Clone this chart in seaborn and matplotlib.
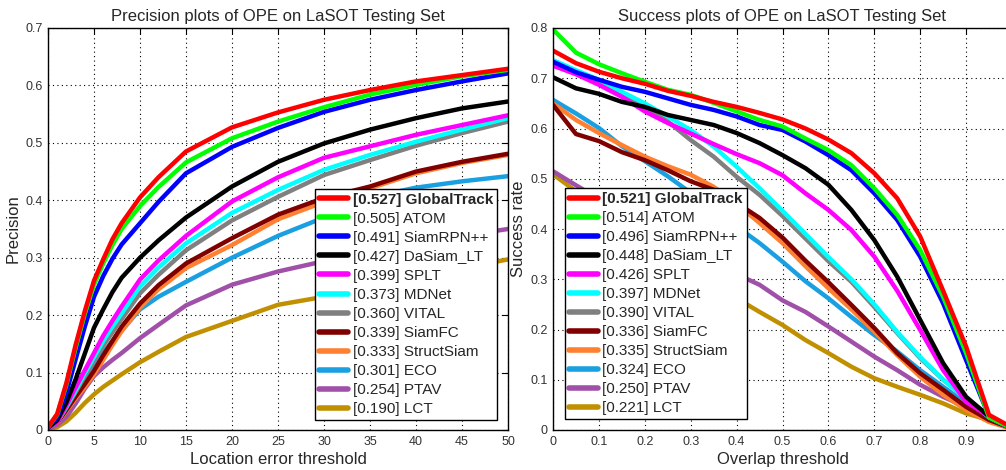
import matplotlib
matplotlib.use("Agg")
import matplotlib.pyplot as plt
import seaborn as sns
import pandas as pd

# ========================
# Data
# ========================
trackers = ["GlobalTrack", "ATOM", "SiamRPN++", "DaSiam_LT", "SPLT", "MDNet",
            "VITAL", "SiamFC", "StructSiam", "ECO", "PTAV", "LCT"]
colors = ["#ff0000", "#00ff00", "#0000ff", "#000000", "#ff00ff", "#00ffff",
          "#808080", "#800000", "#ff8030", "#1aa0e0", "#a050a8", "#c09000"]
prec_auc = [0.527, 0.505, 0.491, 0.427, 0.399, 0.373, 0.360, 0.339, 0.333, 0.301, 0.254, 0.190]
succ_auc = [0.521, 0.514, 0.496, 0.448, 0.426, 0.397, 0.390, 0.336, 0.335, 0.324, 0.250, 0.221]

# precision plot: location error threshold
prec_x = [0, 1, 2, 3, 4, 5, 6, 7, 8, 10, 12, 15, 20, 25, 30, 35, 40, 45, 50]
prec_globaltrack = [0.005, 0.028, 0.082, 0.148, 0.207, 0.26, 0.297, 0.332, 0.36, 0.405, 0.44, 0.485, 0.527, 0.553, 0.575, 0.592, 0.607, 0.618, 0.629]
prec_atom = [0.005, 0.027, 0.079, 0.143, 0.202, 0.253, 0.29, 0.322, 0.35, 0.39, 0.423, 0.466, 0.508, 0.537, 0.562, 0.584, 0.601, 0.616, 0.627]
prec_siamrpn = [0.004, 0.022, 0.065, 0.123, 0.18, 0.232, 0.268, 0.298, 0.323, 0.36, 0.397, 0.447, 0.493, 0.526, 0.554, 0.575, 0.592, 0.607, 0.621]
prec_dasiam = [0.004, 0.017, 0.048, 0.088, 0.133, 0.178, 0.21, 0.24, 0.265, 0.30, 0.33, 0.37, 0.424, 0.467, 0.499, 0.523, 0.543, 0.56, 0.572]
prec_splt = [0.003, 0.014, 0.043, 0.074, 0.104, 0.134, 0.164, 0.19, 0.215, 0.262, 0.295, 0.338, 0.398, 0.44, 0.474, 0.494, 0.514, 0.531, 0.548]
prec_mdnet = [0.003, 0.014, 0.041, 0.069, 0.099, 0.127, 0.155, 0.18, 0.203, 0.25, 0.283, 0.325, 0.378, 0.418, 0.453, 0.479, 0.502, 0.523, 0.543]
prec_vital = [0.003, 0.014, 0.039, 0.066, 0.094, 0.12, 0.147, 0.17, 0.193, 0.238, 0.27, 0.313, 0.365, 0.406, 0.444, 0.47, 0.495, 0.517, 0.537]
prec_siamfc = [0.003, 0.013, 0.035, 0.058, 0.08, 0.103, 0.13, 0.155, 0.18, 0.22, 0.252, 0.29, 0.334, 0.375, 0.404, 0.424, 0.45, 0.467, 0.481]
prec_structsiam = [0.003, 0.012, 0.033, 0.055, 0.075, 0.097, 0.122, 0.148, 0.172, 0.213, 0.245, 0.282, 0.322, 0.367, 0.397, 0.421, 0.447, 0.465, 0.479]
prec_eco = [0.003, 0.015, 0.043, 0.07, 0.093, 0.115, 0.135, 0.155, 0.173, 0.21, 0.232, 0.258, 0.30, 0.338, 0.37, 0.405, 0.422, 0.433, 0.442]
prec_ptav = [0.002, 0.009, 0.023, 0.046, 0.072, 0.094, 0.109, 0.122, 0.134, 0.16, 0.183, 0.217, 0.253, 0.276, 0.294, 0.31, 0.325, 0.338, 0.35]
prec_lct = [0.001, 0.005, 0.015, 0.03, 0.047, 0.062, 0.075, 0.086, 0.097, 0.118, 0.136, 0.162, 0.19, 0.218, 0.232, 0.248, 0.265, 0.282, 0.297]

# success plot: overlap threshold
succ_x = [0.0, 0.05, 0.1, 0.15, 0.2, 0.25, 0.3, 0.35, 0.4, 0.45, 0.5,
          0.55, 0.6, 0.65, 0.7, 0.75, 0.8, 0.85, 0.9, 0.95, 1.0]
succ_globaltrack = [0.755, 0.730, 0.713, 0.700, 0.689, 0.675, 0.665, 0.653, 0.643, 0.631, 0.618, 0.600, 0.578, 0.551, 0.511, 0.461, 0.385, 0.277, 0.166, 0.030, 0.005]
succ_atom = [0.797, 0.751, 0.728, 0.710, 0.693, 0.677, 0.667, 0.651, 0.634, 0.617, 0.604, 0.580, 0.557, 0.527, 0.481, 0.428, 0.358, 0.265, 0.153, 0.025, 0.004]
succ_siamrpn = [0.733, 0.712, 0.697, 0.683, 0.673, 0.660, 0.647, 0.637, 0.624, 0.607, 0.597, 0.574, 0.547, 0.517, 0.471, 0.418, 0.345, 0.252, 0.139, 0.027, 0.004]
succ_dasiam = [0.702, 0.680, 0.669, 0.653, 0.643, 0.627, 0.617, 0.607, 0.591, 0.571, 0.547, 0.521, 0.488, 0.438, 0.378, 0.305, 0.219, 0.133, 0.066, 0.027, 0.004]
succ_splt = [0.725, 0.708, 0.687, 0.663, 0.634, 0.611, 0.590, 0.569, 0.549, 0.531, 0.507, 0.471, 0.438, 0.398, 0.345, 0.277, 0.199, 0.119, 0.056, 0.027, 0.003]
succ_mdnet = [0.736, 0.716, 0.697, 0.673, 0.650, 0.624, 0.597, 0.564, 0.524, 0.481, 0.436, 0.390, 0.344, 0.300, 0.250, 0.195, 0.145, 0.100, 0.062, 0.025, 0.003]
succ_vital = [0.730, 0.711, 0.693, 0.667, 0.643, 0.614, 0.577, 0.544, 0.504, 0.468, 0.426, 0.381, 0.336, 0.295, 0.245, 0.193, 0.143, 0.100, 0.064, 0.027, 0.003]
succ_siamfc = [0.647, 0.589, 0.575, 0.553, 0.537, 0.517, 0.495, 0.478, 0.452, 0.422, 0.383, 0.337, 0.294, 0.249, 0.203, 0.153, 0.113, 0.080, 0.046, 0.020, 0.003]
succ_structsiam = [0.650, 0.617, 0.591, 0.567, 0.544, 0.525, 0.508, 0.484, 0.450, 0.412, 0.372, 0.326, 0.282, 0.240, 0.196, 0.149, 0.106, 0.070, 0.040, 0.016, 0.002]
succ_eco = [0.657, 0.630, 0.601, 0.565, 0.535, 0.505, 0.472, 0.440, 0.405, 0.372, 0.335, 0.296, 0.262, 0.225, 0.189, 0.156, 0.119, 0.086, 0.053, 0.020, 0.003]
succ_ptav = [0.515, 0.487, 0.460, 0.435, 0.410, 0.385, 0.360, 0.335, 0.310, 0.289, 0.258, 0.235, 0.206, 0.176, 0.146, 0.119, 0.090, 0.066, 0.046, 0.023, 0.003]
succ_lct = [0.509, 0.475, 0.440, 0.410, 0.380, 0.350, 0.320, 0.290, 0.262, 0.235, 0.209, 0.179, 0.153, 0.126, 0.103, 0.086, 0.070, 0.053, 0.033, 0.020, 0.003]

prec_series = [prec_globaltrack, prec_atom, prec_siamrpn, prec_dasiam, prec_splt, prec_mdnet,
               prec_vital, prec_siamfc, prec_structsiam, prec_eco, prec_ptav, prec_lct]
succ_series = [succ_globaltrack, succ_atom, succ_siamrpn, succ_dasiam, succ_splt, succ_mdnet,
               succ_vital, succ_siamfc, succ_structsiam, succ_eco, succ_ptav, succ_lct]

# ========================
# Style
# ========================
sns.set_theme(style="white")
plt.rcParams["font.family"] = ["Liberation Sans", "DejaVu Sans"]

fig = plt.figure(figsize=(10.06, 4.70), dpi=100)
ax1 = fig.add_axes([48 / 1006, 40 / 470, 460 / 1006, 402 / 470])
ax2 = fig.add_axes([553 / 1006, 40 / 470, 459 / 1006, 402 / 470])


def draw_panel(ax, xs, series, aucs, title, xlabel, ylabel, xlim, ylim, xticks, yticks, loc, anchor):
    handles = {}
    # draw worst first so the best tracker ends up on top
    for i in reversed(range(len(trackers))):
        df = pd.DataFrame({"x": xs, "y": series[i]})
        sns.lineplot(data=df, x="x", y="y", ax=ax, color=colors[i], linewidth=3.2,
                     label=f"[{aucs[i]:.3f}] {trackers[i]}", legend=False)
        handles[i] = ax.lines[-1]
    ax.set_xlim(*xlim)
    ax.set_ylim(*ylim)
    ax.set_xticks(xticks)
    ax.set_yticks(yticks)
    ax.set_xticklabels([f"{t:g}" for t in xticks])
    ax.set_yticklabels([f"{t:g}" for t in yticks])
    ax.grid(True, linestyle=(0, (1, 3)), color="black", linewidth=0.8)
    ax.tick_params(direction="in", length=4, width=0.8, labelsize=9, colors="black",
                   labelcolor="#333333", top=True, right=True, pad=4)
    for s in ax.spines.values():
        s.set_color("black")
        s.set_linewidth(1.0)
    ax.set_title(title, fontsize=12, pad=5)
    ax.set_xlabel(xlabel, fontsize=12, labelpad=3)
    ax.set_ylabel(ylabel, fontsize=12, labelpad=3)
    leg = ax.legend([handles[i] for i in range(len(trackers))],
                    [f"[{aucs[i]:.3f}] {trackers[i]}" for i in range(len(trackers))],
                    loc=loc, bbox_to_anchor=anchor, fontsize=11, frameon=True,
                    fancybox=False, framealpha=1, edgecolor="black",
                    handlelength=1.9, handletextpad=0.3, labelspacing=0.33,
                    borderpad=0.25, borderaxespad=0)
    leg.get_frame().set_linewidth(1.0)
    leg.get_texts()[0].set_fontweight("bold")
    for h in leg.legend_handles:
        h.set_linewidth(4)


draw_panel(ax1, prec_x, prec_series, prec_auc,
           "Precision plots of OPE on LaSOT Testing Set", "Location error threshold", "Precision",
           (0, 50), (0, 0.7), list(range(0, 51, 5)), [0, 0.1, 0.2, 0.3, 0.4, 0.5, 0.6, 0.7],
           "lower right", (0.976, 0.025))
# the right panel runs past the canvas edge, so its last tick (1) is not labelled
draw_panel(ax2, succ_x, succ_series, succ_auc,
           "Success plots of OPE on LaSOT Testing Set", "Overlap threshold", "Success rate",
           (0, 1), (0, 0.8), [0, 0.1, 0.2, 0.3, 0.4, 0.5, 0.6, 0.7, 0.8, 0.9],
           [0, 0.1, 0.2, 0.3, 0.4, 0.5, 0.6, 0.7, 0.8],
           "lower left", (0.026, 0.027))

fig.savefig("out.png", dpi=100)
print("Figure saved: out.png")
